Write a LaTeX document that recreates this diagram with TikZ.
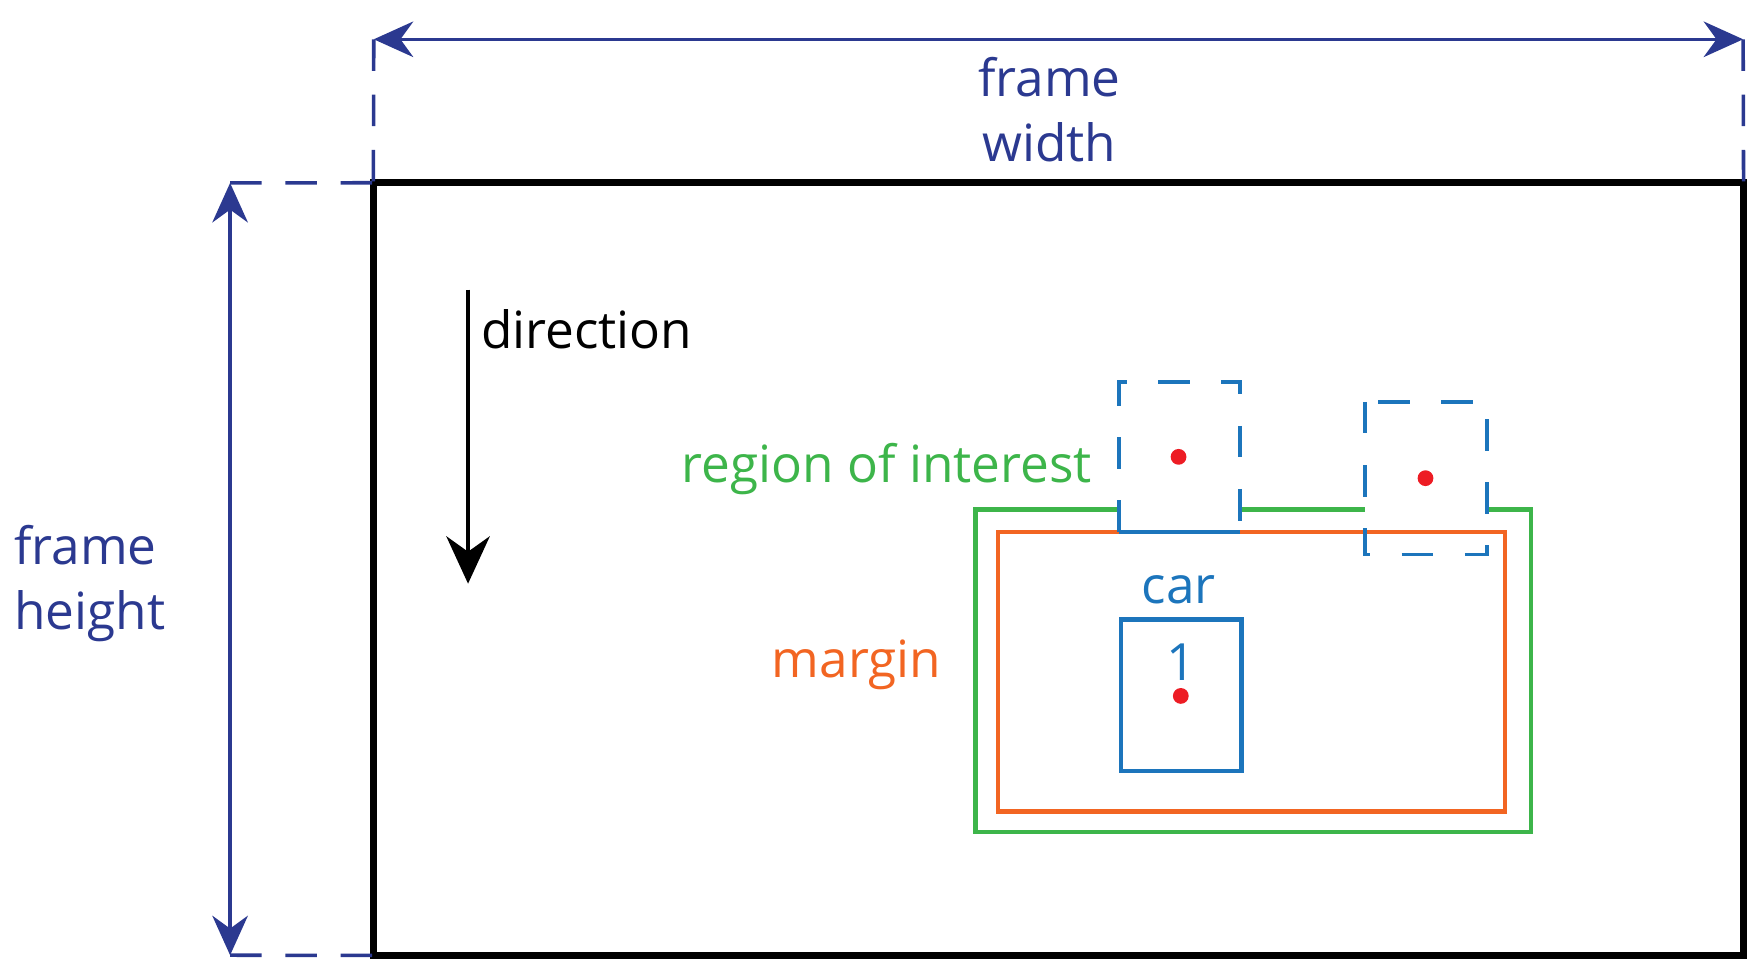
\documentclass[tikz,border=0pt]{standalone}
\usepackage{fontspec}
\setmainfont{Open Sans}
\usetikzlibrary{arrows.meta}
\definecolor{dimblue}{HTML}{2B3990}
\definecolor{roigreen}{HTML}{3DB54A}
\definecolor{marorange}{HTML}{F26522}
\definecolor{carblue}{HTML}{1C75BC}
\definecolor{dotred}{HTML}{ED1C24}
\begin{document}
\begin{tikzpicture}[x=0.01cm,y=-0.01cm,
  lbl/.style={font=\fontsize{13}{16.5}\selectfont,inner sep=0pt,align=center},
  dim/.style={dimblue,line width=0.9pt,{Stealth[length=10pt,width=9pt]}-{Stealth[length=10pt,width=9pt]}},
  ext/.style={dimblue,line width=0.9pt,dash pattern=on 8pt off 6pt},
  dashbox/.style={carblue,line width=1pt,dash pattern=on 8pt off 8pt},
  dot/.style={circle,fill=dotred,inner sep=0pt,minimum size=4pt}]
\useasboundingbox (0,0) rectangle (1568,866);
% frame
\node[draw,line width=1.8pt,minimum width=12.2cm,minimum height=6.88cm,inner sep=0pt,outer sep=0pt] (frame) at (943,507) {};
% dimensions
\coordinate (wl) at (333,35); \coordinate (wr) at (1553,35);
\coordinate (ht) at (205,163); \coordinate (hb) at (205,851);
\draw[ext] (wl) -- (frame.north west); \draw[ext] (wr) -- (frame.north east);
\draw[ext] (ht) -- (frame.north west); \draw[ext] (hb) -- (frame.south west);
\draw[dim] (wl) -- (wr);
\draw[dim] (ht) -- (hb);
\node[lbl,dimblue] (wtxt) at (935,98) {frame\\width};
\node[lbl,dimblue,align=left,anchor=west] (htxt) at (12,520) {frame\\height};
% direction
\coordinate (d1) at (417,258); \coordinate (d2) at (417,520);
\draw[line width=1pt,-{Stealth[length=12pt,width=11pt]}] (d1) -- (d2);
\node[lbl,anchor=west] (dir) at (428,293) {direction};
% region of interest
\draw[roigreen,line width=1.1pt] (997,454) -- (869,454) -- (869,741) -- (1364,741) -- (1364,454) -- (1325,454);
\draw[roigreen,line width=1.1pt] (1105,454) -- (1216,454);
% margin
\draw[marorange,line width=1.1pt] (889,474) rectangle (1341,723);
% dashed boxes
\draw[dashbox] (997,474) -- (997,340) -- (1105,340) -- (1105,474);
\draw[carblue,line width=1pt] (997,474) -- (1105,474);
\draw[dashbox] (1216,358) rectangle (1325,494);
\node[dot] (p1) at (1050,407) {};
\node[dot] (p2) at (1270,426) {};
% car
\draw[carblue,line width=1.1pt] (999,552) rectangle (1106,687);
\node[lbl,carblue] (one) at (1052,590) {1};
\node[dot] (p3) at (1052,620) {};
\node[lbl,carblue] (car) at (1050,525) {car};
\node[lbl,roigreen] (roi) at (790,418) {region of interest};
\node[lbl,marorange] (mar) at (763,592) {margin};
\end{tikzpicture}
\end{document}
